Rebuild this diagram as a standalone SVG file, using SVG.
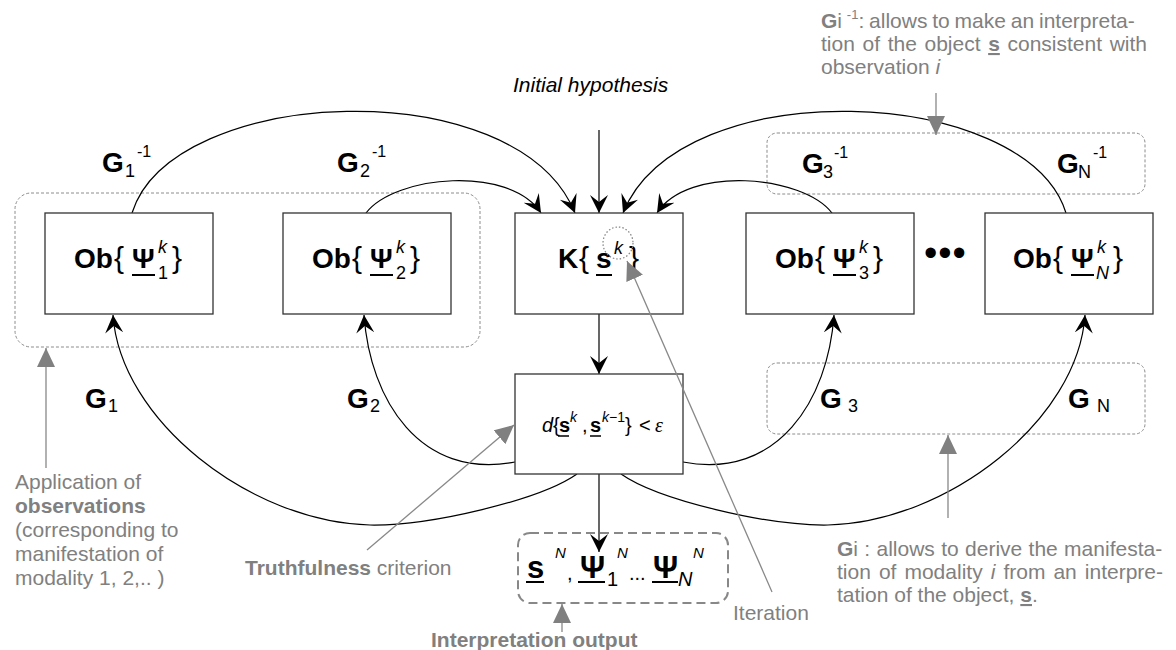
<svg xmlns="http://www.w3.org/2000/svg" width="1176" height="650" viewBox="0 0 1176 650">
<style>
text{font-family:"Liberation Sans",Arial,sans-serif}
.box{fill:#fff;stroke:#333;stroke-width:1.3}
.grp{fill:none;stroke:#8c8c8c;stroke-width:1;stroke-dasharray:3 2}
.out{fill:none;stroke:#888;stroke-width:2;stroke-dasharray:9 5}
.con{fill:none;stroke:#000;stroke-width:1.2}
.ptr{fill:none;stroke:#888;stroke-width:1.3}
.lb{font-size:28px;font-weight:bold;fill:#000}
.br{font-size:30px;font-weight:normal}
.sm{font-size:18px;font-weight:normal}
.sp{font-size:16px;font-weight:normal}
.it{font-style:italic}
.ann{font-size:21px;fill:#808080}
.b{font-weight:bold}
.ul{stroke:#000;stroke-width:2}
.ul1{stroke:#000;stroke-width:1.5}
.dl{font-size:20px;fill:#000}
.ol{font-size:31px;font-weight:bold;fill:#000}
.os{font-size:20px;font-weight:normal}
.on{font-size:15px;font-weight:normal;font-style:italic}
</style>
<defs>
<marker id="ah" markerUnits="userSpaceOnUse" viewBox="0 0 20 20" markerWidth="20" markerHeight="20" refX="18" refY="9" orient="auto"><path d="M0,0 L18,9 L0,18 L7,9 z" fill="#000"/></marker>
<marker id="gh" markerUnits="userSpaceOnUse" viewBox="0 0 20 20" markerWidth="20" markerHeight="20" refX="19" refY="9" orient="auto"><path d="M0,0 L19,9 L0,18 z" fill="#808080"/></marker>
</defs>
<rect width="1176" height="650" fill="#fff"/>

<g id="group-left"><rect class="grp" x="15" y="193" width="465" height="154" rx="16"/></g>
<g id="group-top-right"><rect class="grp" x="767" y="133" width="378" height="61" rx="10"/></g>
<g id="group-bottom-right"><rect class="grp" x="767" y="363" width="378" height="71" rx="10"/></g>

<g id="connectors">
<path class="con" d="M132,213 C172,85 517,70 575,213" marker-end="url(#ah)"/>
<path class="con" d="M366,213 C395,175 510,165 541,213" marker-end="url(#ah)"/>
<path class="con" d="M1066,213 C1026,85 681,70 623,213" marker-end="url(#ah)"/>
<path class="con" d="M832,213 C803,175 688,165 657,213" marker-end="url(#ah)"/>
<path class="con" d="M599,130 L599,213" marker-end="url(#ah)"/>
<path class="con" d="M599,314 L599,374" marker-end="url(#ah)"/>
<path class="con" d="M599,474 L599,552" marker-end="url(#ah)"/>
<path class="con" d="M577,474 C540,500 430,526 370,525 C250,522 120,420 113,315" marker-end="url(#ah)"/>
<path class="con" d="M621,474 C658,500 768,526 828,525 C948,522 1078,420 1085,315" marker-end="url(#ah)"/>
<path class="con" d="M515,462 C420,480 370,400 364,315" marker-end="url(#ah)"/>
<path class="con" d="M683,462 C778,480 828,400 834,315" marker-end="url(#ah)"/>
</g>

<g id="ob1"><rect class="box" x="45" y="213" width="168" height="101"/>
<text class="lb"><tspan x="74" y="268">Ob</tspan><tspan class="br" x="114" y="268">{</tspan><tspan x="132" y="268">Ψ</tspan><tspan class="sm it" x="158" y="253">k</tspan><tspan class="sm" x="158" y="279">1</tspan><tspan class="br" x="172" y="268">}</tspan></text>
<line class="ul" x1="132" y1="275" x2="155" y2="275"/></g>

<g id="ob2"><rect class="box" x="283" y="213" width="168" height="101"/>
<text class="lb"><tspan x="312" y="268">Ob</tspan><tspan class="br" x="352" y="268">{</tspan><tspan x="370" y="268">Ψ</tspan><tspan class="sm it" x="396" y="253">k</tspan><tspan class="sm" x="396" y="279">2</tspan><tspan class="br" x="410" y="268">}</tspan></text>
<line class="ul" x1="370" y1="275" x2="393" y2="275"/></g>

<g id="k"><rect class="box" x="515" y="213" width="168" height="101"/>
<text class="lb"><tspan x="558" y="268">K</tspan><tspan class="br" x="579" y="268">{</tspan><tspan x="596" y="268">s</tspan><tspan class="sm it" x="614" y="254">k</tspan><tspan class="br" x="629" y="268">}</tspan></text>
<line class="ul" x1="596" y1="275" x2="612" y2="275"/>
<ellipse cx="618" cy="243" rx="15" ry="16" fill="none" stroke="#808080" stroke-width="1.2" stroke-dasharray="1.5 2"/></g>

<g id="ob3"><rect class="box" x="746" y="213" width="168" height="101"/>
<text class="lb"><tspan x="775" y="268">Ob</tspan><tspan class="br" x="815" y="268">{</tspan><tspan x="833" y="268">Ψ</tspan><tspan class="sm it" x="859" y="253">k</tspan><tspan class="sm" x="859" y="279">3</tspan><tspan class="br" x="873" y="268">}</tspan></text>
<line class="ul" x1="833" y1="275" x2="856" y2="275"/></g>

<g id="dots"><text x="924" y="266" style="font-size:38px;letter-spacing:1px;fill:#000">•••</text></g>

<g id="obN"><rect class="box" x="985" y="213" width="168" height="101"/>
<text class="lb"><tspan x="1013" y="268">Ob</tspan><tspan class="br" x="1053" y="268">{</tspan><tspan x="1071" y="268">Ψ</tspan><tspan class="sm it" x="1097" y="253">k</tspan><tspan class="sm it" x="1096" y="279">N</tspan><tspan class="br" x="1113" y="268">}</tspan></text>
<line class="ul" x1="1071" y1="275" x2="1094" y2="275"/></g>

<g id="d"><rect class="box" x="515" y="374" width="168" height="100"/>
<text class="dl"><tspan class="it" x="542" y="432">d</tspan><tspan x="553" y="432">{</tspan><tspan class="b" x="559" y="432">s</tspan><tspan class="it" style="font-size:14px" x="570" y="422">k</tspan><tspan x="582" y="432">,</tspan><tspan class="b" x="590" y="432">s</tspan><tspan style="font-size:14px" x="602" y="422"><tspan class="it">k</tspan>−1</tspan><tspan x="625" y="432">}</tspan><tspan x="639" y="432">&lt;</tspan><tspan x="655" y="432" style="font-family:'Liberation Serif',serif;font-style:italic">ε</tspan></text>
<line class="ul1" x1="558" y1="436" x2="569" y2="436"/><line class="ul1" x1="590" y1="436" x2="601" y2="436"/></g>

<g id="output"><rect class="out" x="518" y="533" width="210" height="70" rx="12"/>
<text class="ol"><tspan x="527" y="578">s</tspan><tspan class="on" x="555" y="558">N</tspan><tspan class="os" x="567" y="580">,</tspan><tspan x="580" y="578">Ψ</tspan><tspan class="os" x="607" y="586">1</tspan><tspan class="on" x="617" y="558">N</tspan><tspan class="os" x="629" y="580">...</tspan><tspan x="653" y="578">Ψ</tspan><tspan class="os it" x="678" y="586">N</tspan><tspan class="on" x="693" y="558">N</tspan></text>
<line class="ul" x1="526" y1="582" x2="544" y2="582"/><line class="ul" x1="578" y1="582" x2="605" y2="582"/><line class="ul" x1="652" y1="582" x2="678" y2="582"/></g>

<g id="edge-labels">
<text class="lb"><tspan x="102" y="172">G</tspan><tspan class="sm" x="125" y="177">1</tspan><tspan class="sp" x="137" y="157">-1</tspan></text>
<text class="lb"><tspan x="337" y="172">G</tspan><tspan class="sm" x="360" y="177">2</tspan><tspan class="sp" x="372" y="157">-1</tspan></text>
<text class="lb"><tspan x="802" y="173">G</tspan><tspan class="sm" x="823" y="178">3</tspan><tspan class="sp" x="834" y="158">-1</tspan></text>
<text class="lb"><tspan x="1057" y="173">G</tspan><tspan class="sm" x="1078" y="178">N</tspan><tspan class="sp" x="1093" y="158">-1</tspan></text>
<text class="lb"><tspan x="85" y="408">G</tspan><tspan class="sm" x="108" y="412">1</tspan></text>
<text class="lb"><tspan x="347" y="408">G</tspan><tspan class="sm" x="370" y="412">2</tspan></text>
<text class="lb"><tspan x="820" y="408">G</tspan><tspan class="sm" x="848" y="412">3</tspan></text>
<text class="lb"><tspan x="1068" y="408">G</tspan><tspan class="sm" x="1097" y="412">N</tspan></text>
<text x="513" y="92" style="font-size:21px;font-style:italic;fill:#000">Initial hypothesis</text>
</g>

<g id="annotations">
<path class="ptr" d="M936,93 L936,135" marker-end="url(#gh)"/>
<path class="ptr" d="M948,518 L948,435" marker-end="url(#gh)"/>
<path class="ptr" d="M46,468 L46,348" marker-end="url(#gh)"/>
<path class="ptr" d="M367,550 L514,425" marker-end="url(#gh)"/>
<path class="ptr" d="M772,592 L627,261" marker-end="url(#gh)"/>
<path class="ptr" d="M562,632 L562,604" marker-end="url(#gh)"/>

<text class="ann" x="821" y="28" style="word-spacing:-1px"><tspan class="b">G</tspan>i <tspan style="font-size:13px" dy="-9">-1</tspan><tspan dy="9">: allows to make an interpreta-</tspan></text>
<text class="ann" x="821" y="51" style="word-spacing:1.8px">tion of the object <tspan class="b" text-decoration="underline">s</tspan> consistent with</text>
<text class="ann" x="821" y="74">observation <tspan class="it">i</tspan></text>

<text class="ann" x="837" y="556" style="word-spacing:0.5px"><tspan class="b">G</tspan>i : allows to derive the manifesta-</text>
<text class="ann" x="837" y="579" style="word-spacing:2.2px">tion of modality <tspan class="it">i</tspan> from an interpre-</text>
<text class="ann" x="837" y="602">tation of the object, <tspan class="b" text-decoration="underline">s</tspan>.</text>

<text class="ann" x="15" y="489">Application of</text>
<text class="ann b" x="15" y="513">observations</text>
<text class="ann" x="15" y="537">(corresponding to</text>
<text class="ann" x="15" y="561">manifestation of</text>
<text class="ann" x="15" y="585">modality 1, 2,.. )</text>

<text class="ann" x="245" y="575"><tspan class="b">Truthfulness</tspan> criterion</text>
<text class="ann" x="733" y="620">Iteration</text>
<text class="ann b" x="431" y="647">Interpretation output</text>
</g>
</svg>
